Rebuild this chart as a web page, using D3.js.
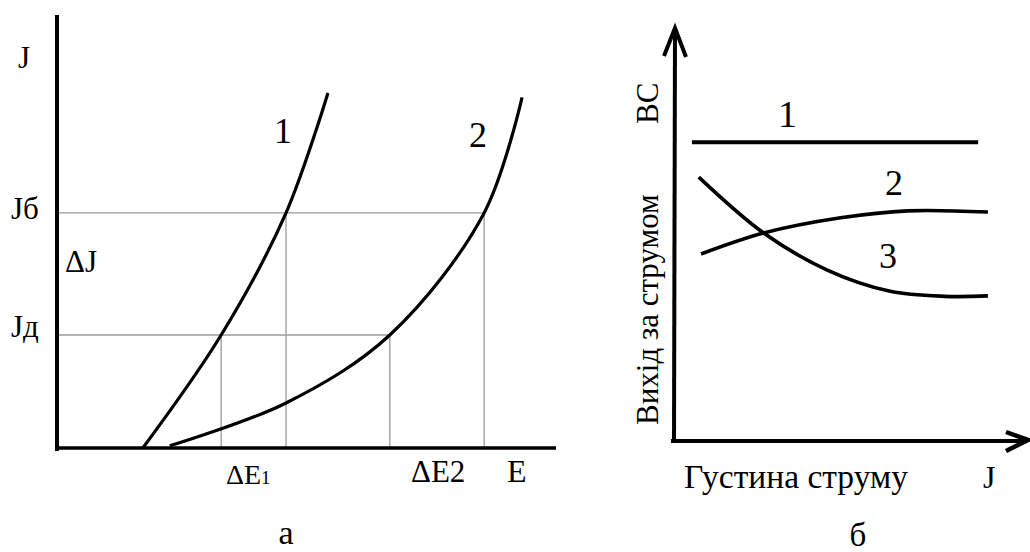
<!DOCTYPE html>
<html>
<head>
<meta charset="utf-8">
<script src="https://cdn.jsdelivr.net/npm/d3@7"></script>
<style>
  html, body { margin: 0; padding: 0; background: #fff; }
</style>
</head>
<body>
<svg id="fig" width="1030" height="552"></svg>
<script>
// ---- panel а: current density J vs potential E ----
const curve1E = [17.2, 32.9, 45.9, 54.3];
const curve1J = [0, 26.1, 54.3, 82.0];
const curve2E = [22.6, 45.9, 66.7, 85.6, 93.2];
const curve2J = [0.5, 10.4, 26.1, 54.3, 81.0];
const levelJ = { "Jб": 54.3, "Jд": 26.1 };
// E values where each curve reaches the two J levels
const dropE = [32.9, 45.9, 66.7, 85.6];
const dropJ = [26.1, 54.3, 26.1, 54.3];

// ---- panel б: current efficiency vs current density ----
const rightLine1X = [5.5, 93.3];
const rightLine1Y = [72.7, 72.7];
const rightCurve2X = [8.3, 27.5, 51.1, 71.6, 96.3];
const rightCurve2Y = [45.5, 50.6, 54.3, 56.0, 55.7];
const rightCurve3X = [7.6, 27.5, 47.0, 66.0, 83.0, 96.3];
const rightCurve3Y = [64.2, 50.6, 41.6, 36.5, 35.2, 35.3];

const svg = d3.select("#fig")
  .attr("font-family", "'Liberation Serif', 'Times New Roman', 'DejaVu Serif', serif");

// scales for panel а
const xa = d3.scaleLinear().domain([0, 100]).range([57, 556]);
const ya = d3.scaleLinear().domain([0, 100]).range([448, 15]);

// scales for panel б
const xb = d3.scaleLinear().domain([0, 100]).range([674, 1000]);
const yb = d3.scaleLinear().domain([0, 100]).range([441, 30]);

const zip = (xs, ys) => xs.map((v, i) => [v, ys[i]]);

// ===== panel а =====
const ga = svg.append("g");

// thin guide lines
const grid = ga.append("g").attr("stroke", "#9a9a9a").attr("stroke-width", 1.3).attr("fill", "none");
grid.append("line").attr("x1", xa(0)).attr("x2", xa(dropE[3])).attr("y1", ya(levelJ["Jб"])).attr("y2", ya(levelJ["Jб"]));
grid.append("line").attr("x1", xa(0)).attr("x2", xa(dropE[2])).attr("y1", ya(levelJ["Jд"])).attr("y2", ya(levelJ["Jд"]));
dropE.forEach((e, i) => {
  grid.append("line").attr("x1", xa(e)).attr("x2", xa(e)).attr("y1", ya(dropJ[i])).attr("y2", ya(0));
});

// axes
ga.append("line").attr("x1", xa(0)).attr("x2", xa(0)).attr("y1", ya(100)).attr("y2", ya(0) + 3)
  .attr("stroke", "#000").attr("stroke-width", 4);
ga.append("line").attr("x1", xa(0)).attr("x2", xa(100)).attr("y1", ya(0)).attr("y2", ya(0))
  .attr("stroke", "#000").attr("stroke-width", 3.5);

const lineA = d3.line().x(d => xa(d[0])).y(d => ya(d[1])).curve(d3.curveCatmullRom.alpha(0.5));
ga.append("path").attr("d", lineA(zip(curve1E, curve1J))).attr("fill", "none").attr("stroke", "#000").attr("stroke-width", 3.2);
ga.append("path").attr("d", lineA(zip(curve2E, curve2J))).attr("fill", "none").attr("stroke", "#000").attr("stroke-width", 3.2);

// labels
ga.append("text").attr("x", 18).attr("y", 68).attr("font-size", 31).text("J");
ga.append("text").attr("x", 11).attr("y", 219).attr("font-size", 31).text("Jб");
ga.append("text").attr("x", 11).attr("y", 337).attr("font-size", 31).text("Jд");
ga.append("text").attr("x", 65).attr("y", 272).attr("font-size", 31).text("ΔJ");
ga.append("text").attr("x", 274).attr("y", 143).attr("font-size", 36).text("1");
ga.append("text").attr("x", 469).attr("y", 147).attr("font-size", 36).text("2");
const de1 = ga.append("text").attr("x", 226).attr("y", 484).attr("font-size", 28);
de1.append("tspan").text("ΔE");
de1.append("tspan").attr("font-size", 19).text("1");
ga.append("text").attr("x", 411).attr("y", 482).attr("font-size", 31).text("ΔE2");
ga.append("text").attr("x", 507).attr("y", 482).attr("font-size", 32).text("E");
ga.append("text").attr("x", 286).attr("y", 544).attr("font-size", 34).attr("text-anchor", "middle").text("а");

// ===== panel б =====
const gb = svg.append("g");

// axes with arrowheads
gb.append("line").attr("x1", 674).attr("x2", 675).attr("y1", 443).attr("y2", 29)
  .attr("stroke", "#000").attr("stroke-width", 4);
gb.append("path").attr("d", "M664,56 L675,28 L686,57").attr("fill", "none")
  .attr("stroke", "#000").attr("stroke-width", 4);
gb.append("line").attr("x1", 671).attr("x2", 1027).attr("y1", 441).attr("y2", 441)
  .attr("stroke", "#000").attr("stroke-width", 4);
gb.append("path").attr("d", "M1006,432 L1028,440 L1006,451").attr("fill", "none")
  .attr("stroke", "#000").attr("stroke-width", 4.5);

const lineB = d3.line().x(d => xb(d[0])).y(d => yb(d[1])).curve(d3.curveCatmullRom.alpha(0.5));
gb.append("path").attr("d", lineB(zip(rightLine1X, rightLine1Y))).attr("fill", "none").attr("stroke", "#000").attr("stroke-width", 4);
gb.append("path").attr("d", lineB(zip(rightCurve2X, rightCurve2Y))).attr("fill", "none").attr("stroke", "#000").attr("stroke-width", 3.6);
gb.append("path").attr("d", lineB(zip(rightCurve3X, rightCurve3Y))).attr("fill", "none").attr("stroke", "#000").attr("stroke-width", 3.6);

gb.append("text").attr("x", 778).attr("y", 127).attr("font-size", 38).text("1");
gb.append("text").attr("x", 885).attr("y", 195).attr("font-size", 36).text("2");
gb.append("text").attr("x", 879).attr("y", 268).attr("font-size", 36).text("3");

gb.append("text").attr("transform", "translate(658,425) rotate(-90)").attr("font-size", 31)
  .text("Вихід за струмом");
gb.append("text").attr("transform", "translate(658,124) rotate(-90)").attr("font-size", 31)
  .text("ВС");

gb.append("text").attr("x", 684).attr("y", 488).attr("font-size", 33.5).text("Густина струму");
gb.append("text").attr("x", 983).attr("y", 488).attr("font-size", 32).text("J");
gb.append("text").attr("x", 858).attr("y", 546).attr("font-size", 33).attr("text-anchor", "middle").text("б");
</script>
</body>
</html>
